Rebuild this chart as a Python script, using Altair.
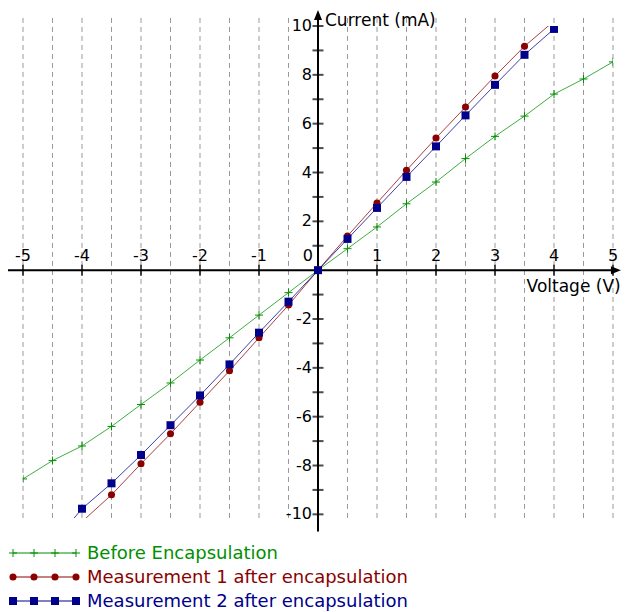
import altair as alt
import pandas as pd

# ---------------- data ----------------
series_names = ["Before Encapsulation",
                "Measurement 1 after encapsulation",
                "Measurement 2 after encapsulation"]
series_colors = ["#009000", "#8B0000", "#00008B"]

voltage_before = [-5, -4.5, -4, -3.5, -3, -2.5, -2, -1.5, -1, -0.5, 0,
                  0.5, 1, 1.5, 2, 2.5, 3, 3.5, 4, 4.5, 5]
current_before = [-8.55, -7.8, -7.2, -6.4, -5.5, -4.62, -3.68, -2.77, -1.84, -0.92, 0,
                  0.88, 1.77, 2.72, 3.61, 4.57, 5.48, 6.31, 7.21, 7.83, 8.53]

voltage_m1 = [-4, -3.5, -3, -2.5, -2, -1.5, -1, -0.5, 0,
              0.5, 1, 1.5, 2, 2.5, 3, 3.5, 4]
current_m1 = [-10.3, -9.2, -7.93, -6.7, -5.41, -4.12, -2.77, -1.43, 0,
              1.4, 2.75, 4.09, 5.41, 6.68, 7.95, 9.17, 10.2]

voltage_m2 = [-4.5, -4, -3.5, -3, -2.5, -2, -1.5, -1, -0.5, 0,
              0.5, 1, 1.5, 2, 2.5, 3, 3.5, 4]
current_m2 = [-11.2, -9.77, -8.73, -7.57, -6.35, -5.13, -3.86, -2.56, -1.29, 0,
              1.28, 2.55, 3.82, 5.07, 6.34, 7.59, 8.82, 9.88]

x_grid = [-5, -4.5, -4, -3.5, -3, -2.5, -2, -1.5, -1, -0.5,
          0.5, 1, 1.5, 2, 2.5, 3, 3.5, 4, 4.5, 5]
x_ticks = [-5, -4, -3, -2, -1, 1, 2, 3, 4, 5]
x_tick_labels = ["-5", "-4", "-3", "-2", "-1", "1", "2", "3", "4", "5"]
y_ticks = [-10, -9, -8, -7, -6, -5, -4, -3, -2, -1, 1, 2, 3, 4, 5, 6, 7, 8, 9, 10]
y_label_values = [-10, -8, -6, -4, -2, 2, 4, 6, 8, 10]
y_tick_labels = ["-10", "-8", "-6", "-4", "-2", "2", "4", "6", "8", "10"]

x_title = "Voltage (V)"
y_title = "Current (mA)"

FONT = "DejaVu Sans"
Y_MIN, Y_MAX = -10.15, 10

xs = alt.Scale(domain=[-5, 5], nice=False, zero=False)
ys = alt.Scale(domain=[Y_MIN, Y_MAX], nice=False, zero=False)
cs = alt.Scale(domain=series_names, range=series_colors)

one = pd.DataFrame({"k": [0]})


def X(field):
    return alt.X(field, type="quantitative", scale=xs, axis=None)


def Y(field):
    return alt.Y(field, type="quantitative", scale=ys, axis=None)


def XD(v):
    return alt.XDatum(v, scale=xs, axis=None)


def YD(v):
    return alt.YDatum(v, scale=ys, axis=None)


# ---------------- frame (grid, axes, ticks, labels) ----------------
grid_df = pd.DataFrame({"v": x_grid})
grid = alt.Chart(grid_df).mark_rule(color="#999999", strokeWidth=1, strokeDash=[5, 4]).encode(
    x=X("v"), y=YD(10.33), y2=alt.Y2Datum(-10.25))

xaxis = alt.Chart(one).mark_rule(color="black", strokeWidth=2).encode(
    x=XD(-5.27), x2=alt.X2Datum(5.05), y=YD(0))
yaxis = alt.Chart(one).mark_rule(color="black", strokeWidth=2).encode(
    x=XD(0), y=YD(-10.7), y2=alt.Y2Datum(10.4))

xarrow = alt.Chart(one).mark_point(shape="M-1,-0.8L1,0L-1,0.8Z", filled=True, color="black",
                                   size=100, opacity=1).encode(x=XD(5.05), y=YD(0))
yarrow = alt.Chart(one).mark_point(shape="M-0.8,1L0,-1L0.8,1Z", filled=True, color="black",
                                   size=100, opacity=1).encode(x=XD(0), y=YD(10.45))

xt_df = pd.DataFrame({"v": x_ticks, "label": x_tick_labels})
yt_df = pd.DataFrame({"v": y_ticks})
yl_df = pd.DataFrame({"v": y_label_values, "label": y_tick_labels})

xticks = alt.Chart(xt_df).mark_tick(orient="vertical", size=11, thickness=2, color="black").encode(
    x=X("v"), y=YD(0))
yticks = alt.Chart(yt_df).mark_tick(orient="horizontal", size=11, thickness=2, color="black").encode(
    x=XD(0), y=Y("v"))

xlabels = alt.Chart(xt_df).mark_text(font=FONT, fontSize=16, color="black", align="center",
                                     baseline="alphabetic", dy=-9).encode(
    x=X("v"), y=YD(0), text="label:N")
ylabels = alt.Chart(yl_df).mark_text(font=FONT, fontSize=16, color="black", align="right",
                                     baseline="middle", dx=-6).encode(
    x=XD(0), y=Y("v"), text="label:N")
zero_label = alt.Chart(one).mark_text(font=FONT, fontSize=16, color="black", align="right",
                                      baseline="alphabetic", dx=-5, dy=-9, text="0").encode(
    x=XD(0), y=YD(0))

ytitle = alt.Chart(one).mark_text(font=FONT, fontSize=17, color="black", align="left",
                                  baseline="alphabetic", dx=7, text=y_title).encode(
    x=XD(0), y=YD(10))
xtitle = alt.Chart(one).mark_text(font=FONT, fontSize=17, color="black", align="right",
                                  baseline="alphabetic", dy=22, text=x_title).encode(
    x=XD(5.13), y=YD(0))


# ---------------- data series ----------------
def series_df(name, vx, vy):
    return pd.DataFrame({"V": vx, "I": vy, "series": name})


df_b = series_df(series_names[0], voltage_before, current_before)
df_1 = series_df(series_names[1], voltage_m1, current_m1)
df_2 = series_df(series_names[2], voltage_m2, current_m2)

in_range = f"datum.I >= {Y_MIN} && datum.I <= {Y_MAX}"


def series_layers(df, point_kwargs):
    line = alt.Chart(df).mark_line(strokeWidth=1, strokeOpacity=0.75, clip=True).encode(
        x=X("V"), y=Y("I"), color=alt.Color("series:N", scale=cs, legend=None))
    pts = alt.Chart(df).transform_filter(in_range).mark_point(
        opacity=1, clip=True, **point_kwargs).encode(
        x=X("V"), y=Y("I"), color=alt.Color("series:N", scale=cs, legend=None))
    return [line, pts]


PLUS = "M-1,0L1,0M0,-1L0,1"
mk = [dict(shape=PLUS, filled=False, size=64, strokeWidth=1),
      dict(shape="circle", filled=True, size=50),
      dict(shape="square", filled=True, size=64)]

data_layers = (series_layers(df_b, mk[0]) + series_layers(df_1, mk[1]) +
               series_layers(df_2, mk[2]))

# ---------------- legend (drawn below the plot) ----------------
leg_rows = [527, 551, 575]          # pixel rows below the plot
leg_marker_x = [-10, 11, 32, 53]    # pixel positions of the sample markers
leg_text_x = 64

leg_layers = []
for i, name in enumerate(series_names):
    col = series_colors[i]
    leg_layers.append(alt.Chart(one).mark_rule(strokeWidth=1, color=col).encode(
        x=alt.value(leg_marker_x[0]), x2=alt.value(leg_marker_x[-1]), y=alt.value(leg_rows[i])))
    for px in leg_marker_x:
        leg_layers.append(alt.Chart(one).mark_point(opacity=1, color=col, **mk[i]).encode(
            x=alt.value(px), y=alt.value(leg_rows[i])))
    leg_layers.append(alt.Chart(one).mark_text(font=FONT, fontSize=18, align="left", color=col,
                                               baseline="alphabetic", dy=6, text=name).encode(
        x=alt.value(leg_text_x), y=alt.value(leg_rows[i])))

chart = alt.layer(grid, xaxis, yaxis, xticks, yticks, xarrow, yarrow,
                  xlabels, ylabels, zero_label, ytitle, xtitle,
                  *data_layers, *leg_layers).properties(
    width=590, height=492,
    autosize=alt.AutoSizeParams(type="none"),
    padding={"left": 15, "top": 18, "right": 8, "bottom": 94},
    background="white",
).configure_view(stroke=None)

chart.save("out.html", embed_options={"renderer": "svg", "actions": False})
